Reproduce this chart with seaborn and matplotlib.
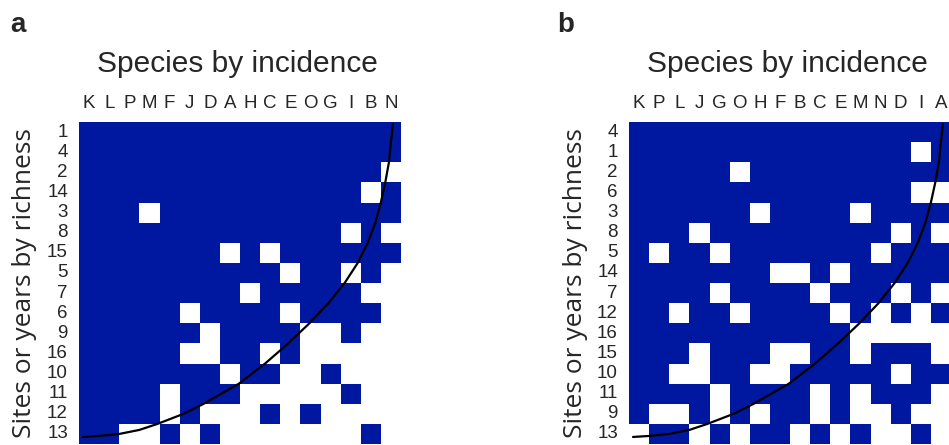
import numpy as np
import pandas as pd
import matplotlib
matplotlib.use("Agg")
import matplotlib.pyplot as plt
import seaborn as sns
from matplotlib.colors import ListedColormap

# panel a: species order and sites order, 1 = present
species_a = list("KLPMFJDAHCEOGIBN")
sites_a = ["1", "4", "2", "14", "3", "8", "15", "5", "7", "6", "9", "16", "10", "11", "12", "13"]
presence_a = [
    "1111111111111111",
    "1111111111111111",
    "1111111111111110",
    "1111111111111101",
    "1110111111111111",
    "1111111111111010",
    "1111111010111111",
    "1111111111011010",
    "1111111101111100",
    "1111101111011110",
    "1111110111100100",
    "1111100110100000",
    "1111111011001000",
    "1111011100000100",
    "1111010001010000",
    "1100101000000010",
]

# panel b
species_b = list("KPLJGOHFBCEMNDIA")
sites_b = ["4", "1", "2", "6", "3", "8", "5", "14", "7", "12", "16", "15", "10", "11", "9", "13"]
presence_b = [
    "1111111111111111",
    "1111111111111101",
    "1111101111111111",
    "1111111111111100",
    "1111110111101111",
    "1110111111111010",
    "1011011111110111",
    "1111111001011111",
    "1111011110111010",
    "1101101111010101",
    "1111111111100000",
    "1110111001101110",
    "1100110011111011",
    "1111011110101110",
    "1001010110100100",
    "0110101101010010",
]

# isocline (column, row in cell units)
curve_col = [15.6, 15.5, 15.4, 15.22, 15.0, 14.73, 14.35, 13.85, 13.2, 12.4, 11.45,
             10.4, 9.25, 7.95, 6.2, 5.2, 3.9, 3.0, 2.0, 1.0, 0.2]
curve_row = [0.1, 1.0, 2.0, 3.0, 4.0, 5.0, 6.0, 7.0, 8.0, 9.0, 10.0,
             11.0, 12.0, 13.0, 14.0, 14.5, 15.0, 15.3, 15.5, 15.6, 15.65]

sns.set_style("white")
plt.rcParams["font.family"] = ["Liberation Sans", "DejaVu Sans"]

W, H = 949, 445
fig = plt.figure(figsize=(W / 100, H / 100), dpi=100)
cmap = ListedColormap(["white", "#0018A0"])

panels = [("a", species_a, sites_a, presence_a), ("b", species_b, sites_b, presence_b)]
for i, (letter, species, sites, presence) in enumerate(panels):
    off = 550 * i
    df = pd.DataFrame([[int(c) for c in r] for r in presence], index=sites, columns=species)
    ax = fig.add_axes([(79 + off) / W, 1 / H, 322 / W, 322 / H])
    sns.heatmap(df, cmap=cmap, vmin=0, vmax=1, cbar=False, ax=ax, linewidths=0)
    ax.plot(curve_col, curve_row, color="black", lw=1.6)
    ax.xaxis.tick_top()
    ax.tick_params(length=0, labelsize=13.5)
    ax.tick_params(axis="x", pad=7.5)
    ax.tick_params(axis="y", pad=8)
    plt.setp(ax.get_xticklabels(), rotation=0)
    plt.setp(ax.get_yticklabels(), rotation=0)
    ax.set_xlabel("")
    ax.set_ylabel("")

    fig.text((237.5 + off) / W, 1 - 72 / H, "Species by incidence", ha="center",
             va="baseline", fontsize=21.5)
    fig.text((25 + off) / W, 1 - 283 / H, "Sites or years by richness", rotation=90,
             ha="center", va="center", fontsize=19, family=["Open Sans", "DejaVu Sans"])
    fig.text((10 + 547 * i) / W, 1 - 32 / H, letter, ha="left", va="baseline",
             fontsize=20, fontweight="bold")

fig.savefig("out.png", dpi=100)
